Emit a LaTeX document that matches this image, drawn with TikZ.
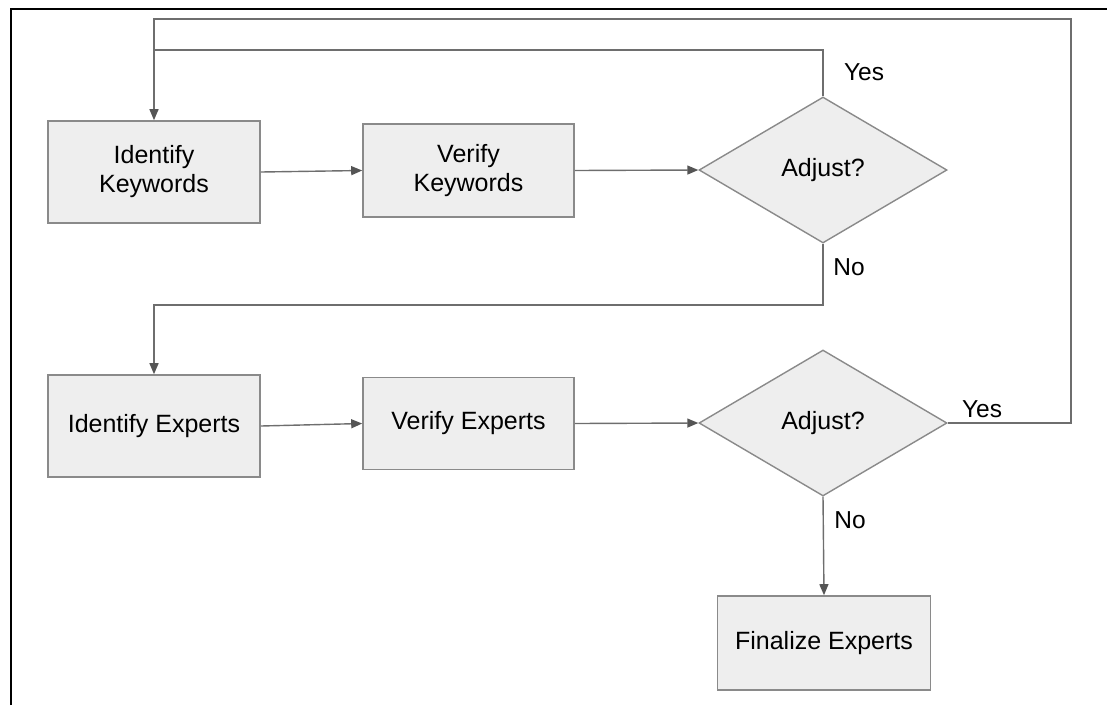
\documentclass[tikz,border=0pt]{standalone}
\usepackage{fontspec}
\setmainfont{Liberation Sans}
\usetikzlibrary{shapes.geometric,arrows.meta}

\definecolor{boxfill}{HTML}{EEEEEE}
\definecolor{boxline}{HTML}{8A8A8A}
\definecolor{wire}{HTML}{6E6E6E}
\definecolor{tipcol}{HTML}{555555}

\tikzset{
  procbox/.style={draw=boxline, line width=1.6pt, fill=boxfill, rectangle,
    inner sep=0pt, align=center, font=\fontsize{25}{29}\selectfont},
  decide/.style={draw=boxline, line width=1.4pt, fill=boxfill, diamond,
    aspect=1.7, inner sep=0pt, minimum width=248pt, minimum height=146pt,
    font=\fontsize{25}{29}\selectfont},
  wireline/.style={draw=wire, line width=1.4pt},
  flow/.style={wireline, -{Triangle[length=11pt,width=9pt,color=tipcol]}},
  lbl/.style={inner sep=0pt, font=\fontsize{24.5}{28}\selectfont},
}

\begin{document}
\begin{tikzpicture}[x=1pt,y=-1pt]
  \useasboundingbox (0,0) rectangle (1107,705);

  % outer frame (left and top edges)
  \draw[black, line width=2pt] (11,705) -- (11,9) -- (1107,9);

  % process boxes and decisions
  \node[procbox, minimum width=212pt, minimum height=102pt] (idkw) at (154,172) {Identify\\Keywords};
  \node[procbox, minimum width=211pt, minimum height=93pt] (vkw) at (468.5,170.5) {Verify\\Keywords};
  \node[decide] (adj1) at (823,170) {Adjust?};

  \node[procbox, minimum width=212pt, minimum height=102pt] (idex) at (154,426) {Identify Experts};
  \node[procbox, minimum width=211pt, minimum height=92pt] (vex) at (468.5,423.5) {Verify Experts};
  \node[decide] (adj2) at (823,423) {Adjust?};

  \node[procbox, minimum width=213pt, minimum height=94pt] (fin) at (824,643) {Finalize Experts};

  % routing points of the feedback loops
  \coordinate (loopL) at (154,19);
  \coordinate (loopR) at (1071,19);
  \coordinate (yesjoin) at (154,50);
  \coordinate (nojoin) at (154,305);

  % main flow
  \draw[flow] (idkw.east) -- (vkw.west);
  \draw[flow] (vkw.east) -- (adj1.west);
  \draw[flow] (idex.east) -- (vex.west);
  \draw[flow] (vex.east) -- (adj2.west);
  \draw[flow] (adj2.south) -- (fin.north);

  % first decision: yes loops back, no goes down
  \draw[wireline] (adj1.north) |- (yesjoin);
  \draw[flow] (adj1.south) |- (nojoin) -- (idex.north);

  % second decision: yes loops back to the start
  \draw[flow] (adj2.east) -| (loopR) -- (loopL) -- (idkw.north);

  % branch labels
  \node[lbl] (y1) at (864,72) {Yes};
  \node[lbl] (n1) at (849,267) {No};
  \node[lbl] (y2) at (982,409) {Yes};
  \node[lbl] (n2) at (850,520) {No};
\end{tikzpicture}
\end{document}
